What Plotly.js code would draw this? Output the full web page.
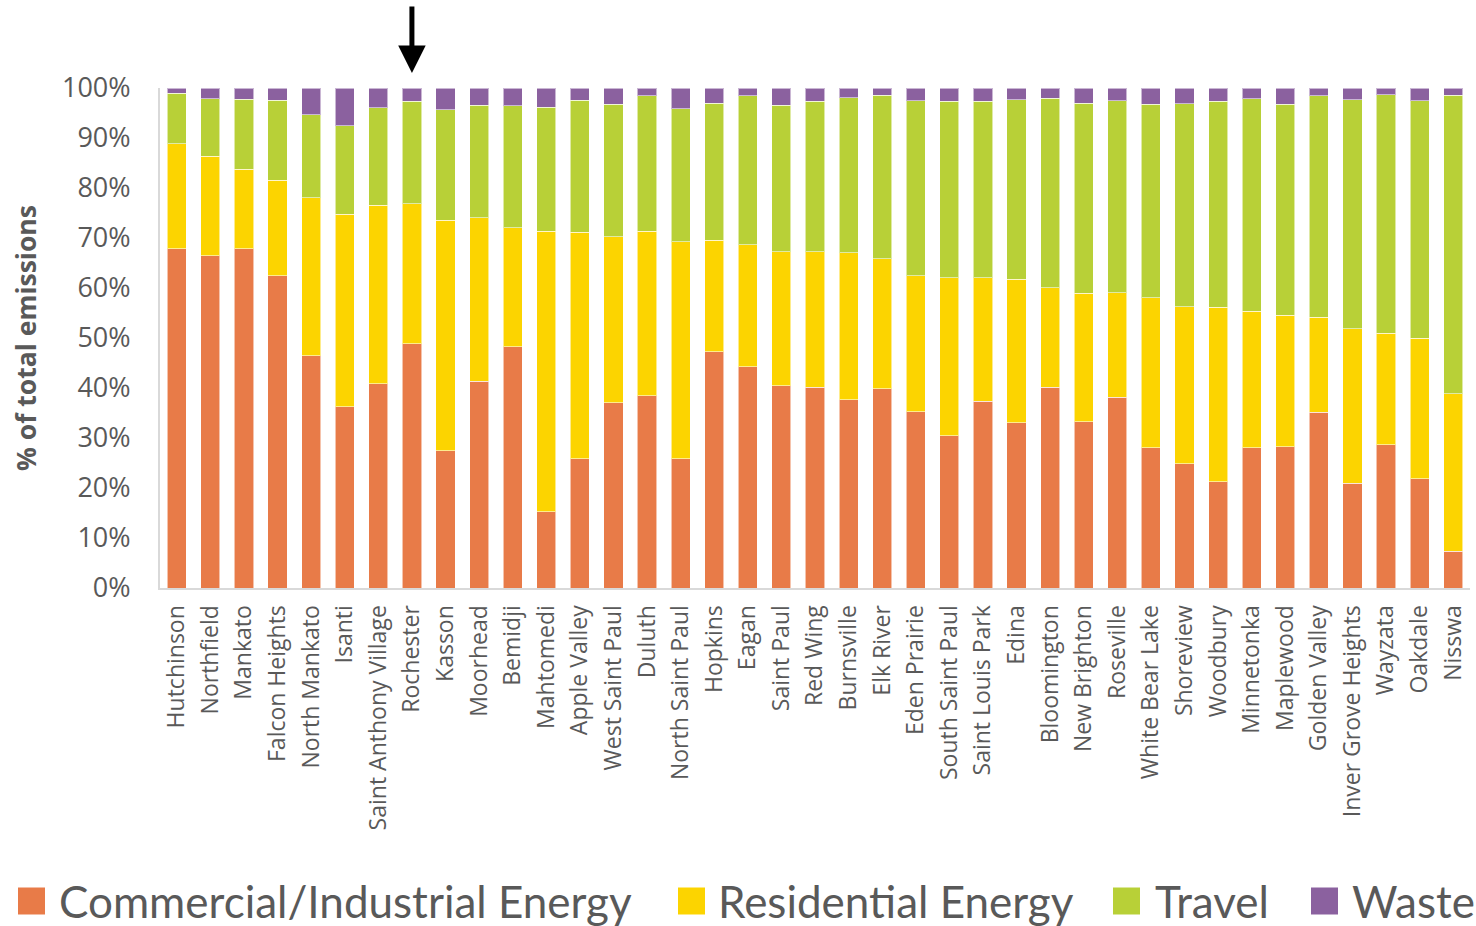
<!DOCTYPE html>
<html>
<head>
<meta charset="utf-8">
<script src="https://cdn.plot.ly/plotly-3.0.1.min.js"></script>
<style>
  html, body { margin: 0; padding: 0; background: #ffffff; }
  #chart { width: 1476px; height: 926px; }
</style>
</head>
<body>
<div id="chart"></div>
<script>
const cities = ["Hutchinson", "Northfield", "Mankato", "Falcon Heights", "North Mankato", "Isanti",
  "Saint Anthony Village", "Rochester", "Kasson", "Moorhead", "Bemidji", "Mahtomedi", "Apple Valley",
  "West Saint Paul", "Duluth", "North Saint Paul", "Hopkins", "Eagan", "Saint Paul", "Red Wing",
  "Burnsville", "Elk River", "Eden Prairie", "South Saint Paul", "Saint Louis Park", "Edina",
  "Bloomington", "New Brighton", "Roseville", "White Bear Lake", "Shoreview", "Woodbury",
  "Minnetonka", "Maplewood", "Golden Valley", "Inver Grove Heights", "Wayzata", "Oakdale", "Nisswa"];

const commercial = [67.9, 66.5, 67.9, 62.5, 46.5, 36.3, 40.9, 48.9, 27.5, 41.4, 48.3, 15.3, 25.9,
  37.1, 38.5, 25.9, 47.3, 44.3, 40.5, 40.2, 37.7, 39.9, 35.3, 30.5, 37.4, 33.1, 40.2, 33.3, 38.2,
  28.1, 24.9, 21.3, 28.1, 28.3, 35.2, 21.0, 28.7, 21.9, 7.4];
const residential = [21.0, 19.9, 15.9, 19.1, 31.6, 38.5, 35.7, 28.0, 46.1, 32.7, 23.8, 56.1, 45.3,
  33.2, 32.9, 43.4, 22.3, 24.4, 26.8, 27.1, 29.4, 26.0, 27.2, 31.6, 24.7, 28.7, 19.9, 25.7, 20.9,
  30.0, 31.4, 34.9, 27.3, 26.3, 19.0, 30.9, 22.3, 28.1, 31.5];
const travel = [10.1, 11.5, 14.0, 16.0, 16.6, 17.7, 19.5, 20.5, 22.1, 22.5, 24.4, 24.8, 26.4,
  26.5, 27.1, 26.6, 27.4, 29.8, 29.3, 30.1, 31.0, 32.7, 35.0, 35.3, 35.3, 35.9, 37.9, 38.0, 38.4,
  38.7, 40.6, 41.2, 42.5, 42.2, 44.3, 45.8, 47.7, 47.5, 59.7];
const waste = [1.0, 2.1, 2.2, 2.4, 5.3, 7.5, 3.9, 2.6, 4.3, 3.4, 3.5, 3.8, 2.4,
  3.2, 1.5, 4.1, 3.0, 1.5, 3.4, 2.6, 1.9, 1.4, 2.5, 2.6, 2.6, 2.3, 2.0, 3.0, 2.5,
  3.2, 3.1, 2.6, 2.1, 3.2, 1.5, 2.3, 1.3, 2.5, 1.4];

const seriesNames = ["Commercial/Industrial Energy", "Residential Energy", "Travel", "Waste"];
const yTickVals = [0, 10, 20, 30, 40, 50, 60, 70, 80, 90, 100];
const highlighted = "Rochester";

const colors = ["#E87B48", "#FCD400", "#B8D037", "#8B619F"];
const seriesValues = [commercial, residential, travel, waste];

const traces = seriesNames.map((name, i) => ({
  type: "bar",
  name: name,
  x: cities,
  y: seriesValues[i],
  marker: { color: colors[i], line: { color: "rgba(255,255,255,0.55)", width: 1 } },
  showlegend: false,
  hoverinfo: "x+y+name"
}));

// plot area geometry (px) used for the custom legend
const W = 1476, H = 926;
const mL = 160, mR = 6, mT = 88, mB = 338;
const pw = W - mL - mR, ph = H - mT - mB;
const px2x = p => (p - mL) / pw;
const py2y = p => (H - mB - p) / ph;

const legendSquares = [18, 678, 1113, 1311];
const legendTexts = [57, 716, 1153, 1350];
const legendY = 901;
const sq = 27;

const shapes = seriesNames.map((n, i) => ({
  type: "rect", xref: "paper", yref: "paper",
  x0: px2x(legendSquares[i]), x1: px2x(legendSquares[i] + sq),
  y0: py2y(legendY + sq / 2), y1: py2y(legendY - sq / 2),
  fillcolor: colors[i], line: { width: 0 }
}));

const annotations = seriesNames.map((n, i) => ({
  xref: "paper", yref: "paper",
  x: px2x(legendTexts[i]), y: py2y(legendY),
  xanchor: "left", yanchor: "middle",
  text: n, showarrow: false,
  font: { family: "Lato, 'Open Sans', sans-serif", size: 44, color: "#595959" }
}));

annotations.push({
  xref: "x", yref: "y", x: highlighted, y: 100,
  text: "", showarrow: true, ax: 0, ay: -83, standoff: 15,
  arrowhead: 2, arrowsize: 1.1, arrowwidth: 5, arrowcolor: "#000000"
});

const layout = {
  width: W, height: H,
  margin: { l: mL, r: mR, t: mT, b: mB, pad: 0 },
  paper_bgcolor: "#ffffff", plot_bgcolor: "#ffffff",
  barmode: "stack",
  bargap: 0.43,
  font: { family: "'Open Sans', sans-serif", color: "#595959" },
  xaxis: {
    type: "category",
    tickangle: -90,
    tickfont: { family: "'Open Sans', sans-serif", size: 23, color: "#595959" },
    showline: true, linecolor: "#D9D9D9", linewidth: 2,
    ticks: "", showgrid: false, zeroline: false,
    ticklabelstandoff: 6,
    automargin: false
  },
  yaxis: {
    range: [0, 100],
    tickvals: yTickVals,
    ticktext: yTickVals.map(v => v + "%"),
    tickfont: { family: "'Open Sans', sans-serif", size: 27, color: "#595959" },
    showline: true, linecolor: "#D9D9D9", linewidth: 2,
    ticks: "", showgrid: false, zeroline: false,
    ticklabelstandoff: 22,
    automargin: false,
    title: {
      text: "% of total emissions",
      font: { family: "'Open Sans', sans-serif", size: 26.5, color: "#595959", weight: "bold" },
      standoff: 18
    }
  },
  shapes: shapes,
  annotations: annotations
};

Plotly.newPlot("chart", traces, layout, { displayModeBar: false, staticPlot: true });
</script>
</body>
</html>
